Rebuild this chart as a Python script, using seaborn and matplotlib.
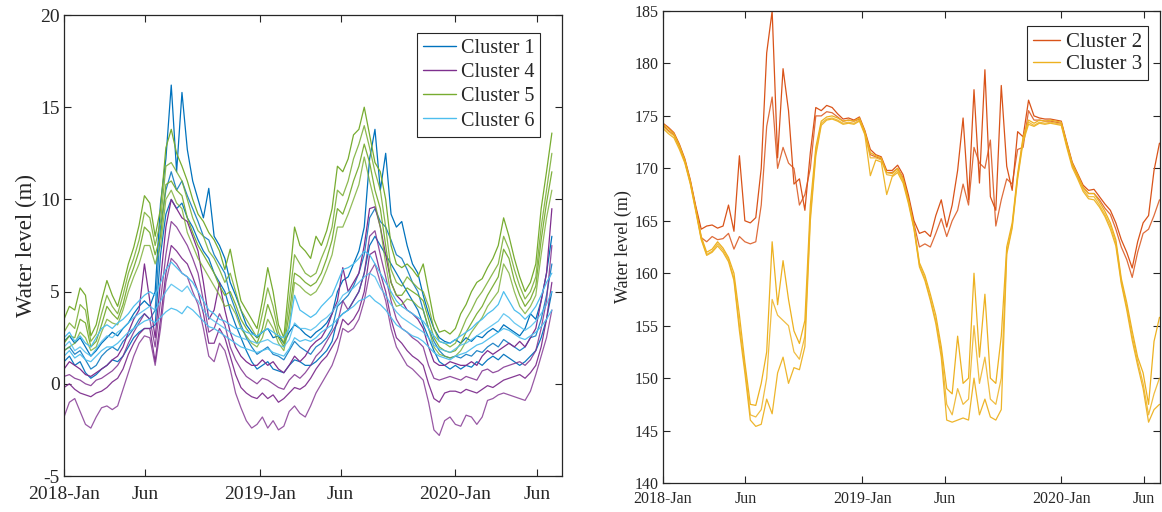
import numpy as np
import pandas as pd
import matplotlib
matplotlib.use("Agg")
import matplotlib.pyplot as plt
from matplotlib.lines import Line2D
import seaborn as sns

# ---------------- data (10-day samples, 2018-01-01 .. 2020-06-29) ----------------
start_date = "2018-01-01"
step = "10D"

c1_a = [2.3,2.6,2.2,2.5,2.0,1.5,1.8,2.2,2.5,2.8,
        2.6,3.0,3.3,3.8,4.2,4.5,4.2,5.0,9.8,12.2,
        16.2,11.5,15.8,12.7,11.0,10.0,9.0,10.6,8.0,7.5,
        6.8,5.5,4.8,4.0,3.2,2.8,2.5,2.8,3.0,2.5,
        2.6,2.2,2.8,3.2,3.0,2.7,2.5,2.8,3.0,3.3,
        3.8,5.0,5.6,5.8,6.5,7.2,8.5,12.2,13.8,10.5,
        12.5,9.2,8.5,8.8,7.5,6.5,6.0,4.8,3.8,3.0,
        2.5,2.3,2.2,2.4,2.2,2.5,2.3,2.6,2.5,2.8,
        3.0,2.8,3.2,3.0,2.8,2.6,3.0,3.8,3.5,4.5,
        6.0,8.0]
c1_b = [1.8,2.0,1.6,1.8,1.3,0.8,1.0,1.5,1.8,2.0,
        1.8,2.3,2.6,3.0,3.5,3.8,3.5,4.0,8.5,10.5,
        11.5,10.5,11.0,10.2,9.5,8.8,8.0,7.8,7.0,6.5,
        6.0,4.8,4.0,3.2,2.5,2.0,1.6,1.8,2.0,1.6,
        1.5,1.3,1.8,2.3,2.0,1.8,1.6,2.0,2.2,2.5,
        3.0,4.2,4.5,4.8,5.3,6.0,7.0,9.0,9.5,8.8,
        8.5,7.8,7.0,6.8,6.2,5.5,5.0,4.0,3.0,2.3,
        1.8,1.5,1.4,1.5,1.4,1.6,1.5,1.8,1.7,2.0,
        2.2,2.0,2.4,2.2,2.0,1.8,2.0,2.5,2.6,3.5,
        4.8,6.5]
c1_c = [1.2,1.5,1.0,1.2,0.6,0.3,0.5,0.8,1.0,1.3,
        1.2,1.5,2.0,2.5,2.8,3.0,3.0,3.2,7.0,9.2,
        10.0,9.5,9.8,9.0,8.5,7.8,7.2,6.8,6.0,5.5,
        5.0,4.0,3.2,2.5,1.8,1.2,0.8,1.0,1.2,0.8,
        0.7,0.6,1.0,1.3,1.2,1.0,1.0,1.2,1.5,1.8,
        2.3,3.5,3.8,4.0,4.5,5.0,6.0,7.5,8.0,7.5,
        7.0,6.5,6.0,5.5,5.0,4.5,4.0,3.2,2.5,1.8,
        1.2,1.0,0.8,1.0,0.8,1.0,0.9,1.2,1.0,1.3,
        1.5,1.3,1.6,1.4,1.2,1.0,1.2,1.5,1.8,2.5,
        3.5,5.0]

c4_a = [0.8,1.2,1.0,0.8,0.5,0.4,0.6,0.8,1.0,1.3,
        1.5,2.0,2.8,3.5,4.0,6.5,4.5,2.5,5.6,8.5,
        10.0,9.5,9.0,8.8,8.0,7.2,5.5,3.5,4.0,5.5,
        4.0,2.8,2.0,1.5,1.2,1.0,1.0,1.3,1.0,1.2,
        0.8,0.6,1.0,1.5,1.2,1.5,2.0,2.3,2.5,3.0,
        3.8,4.5,6.3,5.0,5.5,6.0,7.5,9.5,9.6,8.5,
        7.0,5.5,4.8,4.5,4.0,3.8,3.5,3.0,2.0,1.2,
        1.0,1.0,1.2,1.1,1.0,1.0,1.2,1.0,1.5,1.8,
        1.6,1.8,2.0,2.2,2.0,2.3,2.0,2.5,3.0,4.5,
        6.0,9.5]
c4_b = [0.4,0.5,0.3,0.2,0.0,-0.1,0.2,0.3,0.5,0.7,
        1.0,1.5,2.2,2.8,3.3,3.8,3.5,2.0,4.5,7.0,
        8.8,8.5,8.0,7.5,6.8,6.0,4.5,2.8,3.0,3.8,
        3.2,2.0,1.3,0.8,0.4,0.2,0.0,0.3,0.2,0.0,
        -0.2,-0.3,0.2,0.5,0.3,0.6,1.0,1.5,1.8,2.3,
        2.8,3.3,4.5,4.0,4.5,5.0,6.0,8.0,8.3,7.0,
        5.8,4.5,3.5,3.0,2.8,2.5,2.3,2.0,1.0,0.3,
        0.2,0.3,0.4,0.3,0.2,0.4,0.3,0.2,0.7,0.8,
        0.6,0.7,0.9,1.0,1.1,1.2,1.0,1.3,1.8,3.0,
        4.5,7.5]
c4_c = [-0.2,0.0,-0.3,-0.5,-0.6,-0.7,-0.5,-0.4,-0.2,0.1,
        0.3,0.8,1.6,2.2,2.7,3.0,3.0,1.2,3.5,6.0,
        7.5,7.2,6.8,6.5,5.8,5.0,3.8,2.2,2.2,3.0,
        2.5,1.5,0.5,-0.2,-0.5,-0.7,-0.8,-0.5,-0.8,-0.6,
        -1.0,-0.8,-0.5,-0.2,-0.3,-0.1,0.3,0.8,1.2,1.5,
        2.0,2.5,3.5,3.2,3.5,4.0,5.0,7.0,7.2,6.0,
        5.0,3.5,2.5,2.2,1.8,1.5,1.3,1.0,0.0,-0.8,
        -1.0,-0.5,-0.4,-0.4,-0.5,-0.3,-0.4,-0.5,-0.3,-0.1,
        -0.2,0.0,0.2,0.3,0.4,0.5,0.3,0.6,1.0,2.0,
        3.5,5.5]
c4_d = [-1.8,-1.0,-0.8,-1.5,-2.2,-2.4,-1.8,-1.3,-1.2,-1.4,
        -1.2,-0.3,0.6,1.5,2.2,2.6,2.5,1.0,3.0,5.5,
        6.8,6.5,6.0,5.8,5.0,4.3,3.0,1.5,1.2,2.2,
        1.8,0.8,-0.5,-1.3,-2.0,-2.4,-2.2,-1.8,-2.4,-2.0,
        -2.5,-2.3,-1.5,-1.2,-1.6,-1.8,-1.2,-0.5,0.0,0.5,
        1.0,1.8,3.0,2.8,3.0,3.5,4.5,6.0,6.5,5.5,
        4.5,3.0,2.0,1.5,1.0,0.8,0.5,0.2,-1.0,-2.5,
        -2.8,-2.0,-1.8,-2.2,-2.3,-1.7,-1.8,-2.2,-1.8,-0.9,
        -0.8,-0.6,-0.5,-0.6,-0.7,-0.8,-0.9,-0.4,0.5,1.5,
        2.5,4.0]

c5_a = [3.5,4.2,4.0,5.2,4.8,2.6,3.2,4.5,5.6,4.8,
        4.2,5.3,6.5,7.4,8.6,10.2,9.8,8.0,9.5,12.8,
        13.8,12.5,11.8,11.0,10.0,9.2,8.8,8.2,7.8,7.2,
        6.2,7.3,5.8,4.5,4.0,3.5,3.0,4.5,6.3,5.0,
        3.2,2.5,5.5,8.5,7.5,7.2,6.8,8.0,7.5,8.3,
        9.5,11.8,11.5,12.2,13.5,13.8,15.0,13.5,12.0,11.5,
        10.0,7.5,6.5,6.3,6.5,6.2,5.8,6.5,5.0,3.5,
        2.8,2.9,2.7,3.0,3.8,4.3,5.0,5.5,5.7,6.3,
        6.8,7.5,9.0,8.0,6.8,5.8,5.0,5.5,6.5,9.5,
        11.5,13.6]
c5_b = [2.8,3.3,3.0,4.3,4.0,2.3,2.7,3.8,4.8,4.2,
        3.8,4.8,6.0,6.8,7.8,9.3,9.0,7.5,8.8,11.8,
        12.0,11.5,11.0,10.0,9.0,8.3,8.0,7.2,6.8,6.2,
        5.5,6.0,5.0,4.0,3.5,3.0,2.5,3.8,5.2,4.2,
        2.8,2.2,4.5,7.0,6.5,6.0,5.8,6.0,6.8,7.5,
        8.5,10.5,10.2,11.0,12.2,13.0,14.0,12.8,11.5,10.5,
        8.5,6.2,5.5,5.3,5.8,5.5,5.2,5.0,4.2,3.0,
        2.3,2.2,2.0,2.2,2.8,3.5,4.0,4.6,5.0,5.5,
        6.0,6.5,8.0,7.3,6.2,5.3,4.6,5.0,5.8,8.5,
        10.5,12.5]
c5_c = [2.2,2.6,2.5,3.5,3.3,2.0,2.3,3.2,4.2,3.8,
        3.5,4.3,5.5,6.3,7.2,8.5,8.2,7.0,8.0,10.8,
        11.0,10.5,10.2,9.0,8.2,7.5,7.0,6.5,6.0,5.3,
        4.8,5.0,4.3,3.5,3.0,2.6,2.2,3.0,4.3,3.5,
        2.5,2.0,3.8,6.0,5.8,5.5,5.3,5.5,6.0,6.8,
        7.8,9.5,9.2,10.0,11.0,11.8,13.0,12.0,10.5,9.5,
        7.5,5.5,4.8,4.8,5.2,5.0,4.8,4.5,3.5,2.5,
        2.0,1.8,1.7,1.8,2.2,2.8,3.3,3.8,4.2,4.8,
        5.3,5.8,7.3,6.8,5.6,4.8,4.2,4.6,5.3,7.8,
        9.8,11.5]
c5_d = [1.8,2.0,2.2,2.8,2.5,1.8,2.0,2.8,3.5,3.3,
        3.2,4.0,5.0,5.8,6.5,7.5,7.5,6.5,7.5,10.0,
        10.5,9.8,9.5,8.2,7.5,6.8,6.3,5.8,5.3,4.8,
        4.2,4.3,3.8,3.0,2.6,2.2,2.0,2.5,3.5,3.0,
        2.2,1.8,3.2,5.5,5.3,5.0,4.8,5.0,5.5,6.2,
        7.0,8.5,8.5,9.2,10.0,10.8,12.3,11.0,9.8,8.5,
        6.5,4.8,4.2,4.3,4.6,4.5,4.2,4.0,3.0,2.0,
        1.6,1.5,1.4,1.5,1.8,2.3,2.8,3.2,3.6,4.2,
        4.6,5.0,6.5,6.0,5.0,4.2,3.8,4.2,4.8,7.0,
        9.0,10.5]

c6_a = [2.5,2.8,2.3,2.6,2.2,2.0,2.5,3.0,3.2,3.0,
        3.3,3.5,3.8,4.2,4.5,4.8,5.0,4.8,5.5,6.2,
        6.6,6.3,6.0,5.8,5.5,5.0,4.5,4.0,3.8,3.5,
        3.4,3.2,3.0,3.0,2.8,2.7,2.6,2.8,3.0,2.8,
        2.6,2.5,3.0,4.8,4.0,3.8,3.6,3.8,4.2,4.5,
        4.8,5.5,6.2,6.3,6.5,6.8,7.2,7.0,6.5,6.0,
        5.5,5.0,4.5,4.2,4.0,3.8,3.6,3.4,3.0,2.6,
        2.3,2.2,2.2,2.4,2.6,2.8,3.0,3.3,3.5,3.8,
        4.0,4.3,5.0,4.5,4.0,3.8,3.5,3.8,4.2,4.8,
        5.5,6.0]
c6_b = [2.0,2.3,1.8,2.0,1.7,1.5,1.9,2.3,2.6,2.5,
        2.8,3.0,3.3,3.6,3.8,4.0,4.2,4.0,4.5,5.0,
        5.4,5.2,5.0,5.3,4.8,4.5,4.0,3.6,3.4,3.2,
        3.0,2.8,2.6,2.5,2.4,2.3,2.2,2.3,2.4,2.2,
        2.1,2.0,2.4,3.3,3.0,3.0,2.9,3.1,3.4,3.6,
        3.9,4.3,4.8,5.0,5.2,5.5,5.8,6.0,5.8,5.2,
        4.8,4.3,3.9,3.6,3.4,3.2,3.0,2.8,2.5,2.1,
        1.9,1.8,1.7,1.9,2.1,2.2,2.4,2.6,2.8,3.0,
        3.2,3.4,3.8,3.6,3.3,3.1,2.9,3.1,3.4,3.8,
        4.3,5.0]
c6_c = [1.5,1.8,1.4,1.6,1.3,1.2,1.5,1.8,2.0,2.0,
        2.2,2.5,2.8,3.0,3.2,3.4,3.5,3.3,3.6,3.9,
        4.1,4.0,3.8,4.2,4.0,3.7,3.4,3.1,3.0,2.8,
        2.6,2.4,2.2,2.0,1.9,1.8,1.7,1.8,1.9,1.7,
        1.6,1.5,1.9,2.5,2.3,2.4,2.3,2.5,2.8,3.0,
        3.2,3.5,3.8,4.0,4.2,4.5,4.6,4.8,4.5,4.3,
        4.0,3.6,3.2,3.0,2.8,2.6,2.5,2.3,2.0,1.7,
        1.5,1.4,1.3,1.5,1.6,1.7,1.9,2.1,2.2,2.4,
        2.6,2.8,3.0,2.9,2.7,2.5,2.4,2.6,2.8,3.1,
        3.5,4.0]

c2_a = [174.3,173.9,173.4,172.3,170.9,168.9,166.4,164.2,164.5,164.6,
        164.3,164.5,166.5,164.0,171.2,165.0,164.8,165.3,170.0,181.0,
        185.0,171.0,179.5,175.5,168.5,169.0,166.0,171.5,175.8,175.5,
        176.0,175.8,175.2,174.7,174.8,174.6,174.9,173.6,171.8,171.3,
        171.1,169.8,169.8,170.3,169.4,167.4,165.0,163.8,164.0,163.5,
        165.5,167.0,164.4,166.5,169.8,174.8,167.0,177.5,168.6,179.4,
        167.3,166.0,177.9,170.2,167.9,173.5,173.0,176.5,175.0,174.8,
        174.7,174.7,174.6,174.5,172.5,170.6,169.5,168.4,167.9,168.0,
        167.3,166.6,166.0,164.8,163.2,162.0,160.5,163.0,164.8,165.5,
        169.8,172.4]
c2_b = [174.1,173.6,173.2,172.1,170.7,168.7,166.2,163.4,163.0,163.5,
        163.2,163.3,163.8,162.3,163.5,163.0,162.8,163.0,166.5,174.0,
        176.8,170.0,172.0,170.5,170.0,166.5,167.5,170.0,175.0,175.0,
        175.4,175.3,174.9,174.5,174.6,174.5,174.7,173.4,171.3,171.1,
        170.9,169.6,169.6,170.0,169.1,167.1,164.7,162.5,162.8,162.5,
        163.8,165.2,163.5,165.0,166.0,168.5,166.5,172.0,170.5,170.0,
        172.7,164.5,167.0,169.0,168.5,171.8,172.0,175.5,174.6,174.6,
        174.5,174.5,174.4,174.3,172.3,170.4,169.3,168.2,167.6,167.6,
        167.0,166.2,165.6,164.2,162.5,161.3,159.6,162.0,163.8,164.2,
        165.5,167.0]

c3_a = [174.2,173.8,173.3,172.2,170.8,168.8,166.2,163.5,162.0,162.3,
        163.0,162.4,161.5,160.0,156.0,151.5,147.5,147.4,149.5,152.5,
        163.0,157.0,161.2,157.5,154.5,153.3,155.5,166.5,172.0,174.5,
        174.9,175.0,174.8,174.5,174.6,174.5,174.8,173.5,171.5,171.2,
        171.0,169.6,169.5,170.0,169.0,167.0,164.5,161.0,159.8,158.0,
        156.0,153.0,149.0,148.5,154.0,149.5,150.0,160.0,152.0,158.0,
        150.0,149.5,154.0,162.5,164.8,169.5,173.0,174.6,174.3,174.6,
        174.5,174.6,174.5,174.4,172.4,170.5,169.4,168.2,167.6,167.6,
        166.8,165.9,164.8,163.2,159.5,157.2,154.5,152.0,150.5,147.5,
        153.5,155.8]
c3_b = [174.0,173.5,173.1,172.0,170.6,168.6,166.0,163.3,161.8,162.1,
        162.8,162.2,161.3,159.5,155.0,151.0,146.5,146.3,147.0,150.0,
        157.5,156.0,155.5,155.0,152.5,151.8,154.0,165.5,171.5,174.3,
        174.7,174.8,174.6,174.3,174.4,174.3,174.6,173.3,171.0,171.0,
        170.8,169.4,169.3,169.8,168.8,166.8,164.3,160.8,159.5,157.6,
        155.5,152.5,147.5,146.5,149.0,147.5,148.0,155.0,149.5,152.0,
        148.0,147.5,150.0,162.0,164.5,169.2,172.8,174.4,174.1,174.4,
        174.3,174.4,174.3,174.2,172.2,170.3,169.2,168.0,167.3,167.3,
        166.5,165.6,164.5,162.9,159.2,156.8,154.0,151.6,149.5,146.5,
        148.5,150.0]
c3_c = [173.8,173.3,172.9,171.8,170.5,168.5,165.9,163.2,161.7,162.0,
        162.6,162.0,161.1,159.3,154.5,150.5,146.0,145.4,145.6,148.0,
        146.6,150.5,152.0,149.5,151.0,150.8,153.0,165.0,171.2,174.1,
        174.6,174.7,174.5,174.2,174.3,174.2,174.5,173.2,169.3,170.8,
        170.6,167.5,169.2,169.6,168.6,166.6,164.2,160.6,159.3,157.4,
        155.2,152.0,146.0,145.8,146.0,146.2,146.0,150.0,146.5,148.0,
        146.3,146.0,147.0,161.8,164.3,169.0,172.5,174.2,174.0,174.3,
        174.2,174.3,174.2,174.1,172.0,170.1,169.0,167.8,167.1,167.0,
        166.3,165.4,164.2,162.6,159.0,156.5,153.6,151.2,149.0,145.8,
        147.0,147.5]

left_clusters = ["Cluster 1", "Cluster 4", "Cluster 5", "Cluster 6"]
right_clusters = ["Cluster 2", "Cluster 3"]
series = {
    "Cluster 1": [c1_a, c1_b, c1_c],
    "Cluster 4": [c4_a, c4_b, c4_c, c4_d],
    "Cluster 5": [c5_a, c5_b, c5_c, c5_d],
    "Cluster 6": [c6_a, c6_b, c6_c],
    "Cluster 2": [c2_a, c2_b],
    "Cluster 3": [c3_a, c3_b, c3_c],
}
colors = {
    "Cluster 1": "#0072BD", "Cluster 2": "#D95319", "Cluster 3": "#EDB120",
    "Cluster 4": "#7E2F8E", "Cluster 5": "#77AC30", "Cluster 6": "#4DBEEE",
}
tick_dates = ["2018-01-01", "2018-06-01", "2019-01-01", "2019-06-01", "2020-01-01", "2020-06-01"]
tick_labels = ["2018-Jan", "Jun", "2019-Jan", "Jun", "2020-Jan", "Jun"]

# ---------------- build long table ----------------
rows = []
for cl, lines in series.items():
    for i, vals in enumerate(lines):
        d = pd.date_range(start_date, periods=len(vals), freq=step)
        rows.append(pd.DataFrame({"date": d, "level": vals, "cluster": cl, "line": f"{cl}-{i}"}))
df = pd.concat(rows, ignore_index=True)

# ---------------- style ----------------
sns.set_theme(style="ticks")
plt.rcParams["font.family"] = ["Liberation Serif", "DejaVu Serif"]
plt.rcParams["axes.unicode_minus"] = False
plt.rcParams["axes.edgecolor"] = "#262626"
plt.rcParams["xtick.color"] = "#262626"
plt.rcParams["ytick.color"] = "#262626"
plt.rcParams["axes.linewidth"] = 0.9

fig = plt.figure(figsize=(11.62, 5.12), dpi=100)
axL = fig.add_axes([0.0551, 0.0703, 0.4286, 0.9004])
axR = fig.add_axes([0.5706, 0.0566, 0.4277, 0.9219])

alphas = [1.0, 0.85, 0.95, 0.8]

def draw(ax, clusters):
    for cl in clusters:
        sub = df[df["cluster"] == cl]
        for j, (ln, g) in enumerate(sub.groupby("line", sort=True)):
            sns.lineplot(data=g, x="date", y="level", ax=ax, color=colors[cl],
                         lw=0.9, alpha=alphas[j % len(alphas)], legend=False,
                         estimator=None, sort=False)

draw(axL, left_clusters)
draw(axR, right_clusters)

for ax, fs_tick, fs_lab, xpad in [(axL, 14, 16.5, 7), (axR, 11.5, 13, 6)]:
    ax.set_xticks(pd.to_datetime(tick_dates))
    ax.set_xticklabels(tick_labels, fontsize=fs_tick)
    ax.tick_params(direction="in", top=True, right=True, length=5, width=0.8,
                   labelsize=fs_tick)
    ax.tick_params(axis="x", pad=xpad)
    ax.tick_params(axis="y", pad=3)
    ax.set_xlabel("")
    ax.set_ylabel("Water level (m)", fontsize=fs_lab, labelpad=2)
    for s in ax.spines.values():
        s.set_visible(True)
        s.set_color("#262626")

axL.set_xlim(pd.Timestamp("2018-01-01"), pd.Timestamp("2020-07-18"))
axL.set_ylim(-5, 20)
axL.set_yticks([-5, 0, 5, 10, 15, 20])
axR.set_xlim(pd.Timestamp("2018-01-01"), pd.Timestamp("2020-06-30"))
axR.set_ylim(140, 185)
axR.set_yticks(np.arange(140, 186, 5))

def make_legend(ax, clusters, anchor, fs, hl, ls):
    handles = [Line2D([0], [0], color=colors[c], lw=1.0) for c in clusters]
    leg = ax.legend(handles, clusters, loc="upper right", bbox_to_anchor=anchor,
                    fontsize=fs, frameon=True, fancybox=False, framealpha=1,
                    edgecolor="#262626", borderaxespad=0, handlelength=hl,
                    handletextpad=0.25, labelspacing=ls, borderpad=0.3)
    leg.get_frame().set_linewidth(0.8)

make_legend(axL, left_clusters, (0.956, 0.961), 14.5, 1.6, 0.25)
make_legend(axR, right_clusters, (0.976, 0.968), 15, 1.3, 0.12)

fig.savefig("out.png", dpi=100)
